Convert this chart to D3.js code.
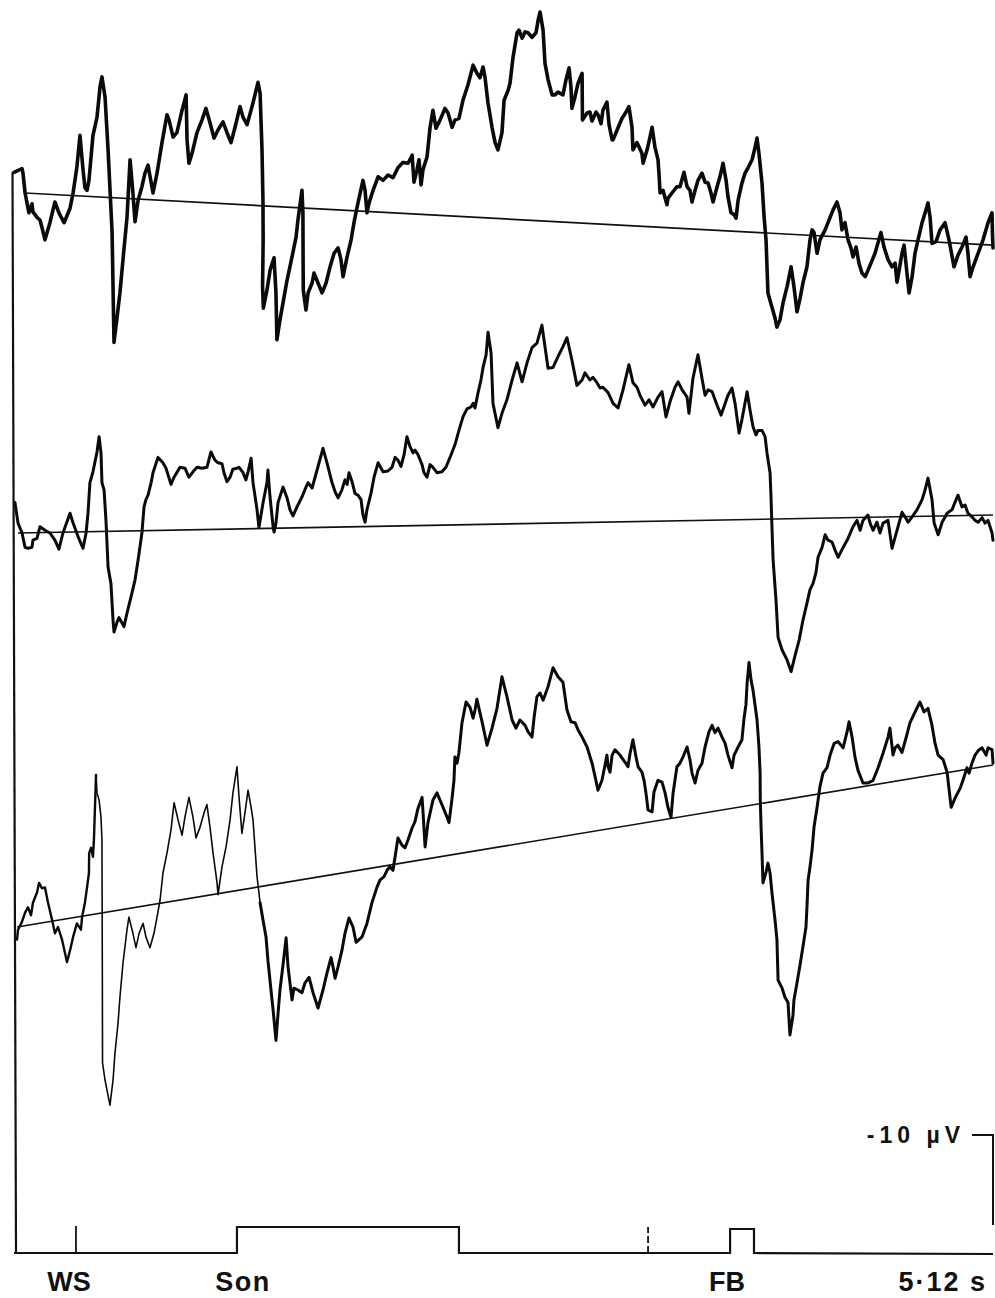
<!DOCTYPE html>
<html>
<head>
<meta charset="utf-8">
<script src="https://cdn.jsdelivr.net/npm/d3@7/dist/d3.min.js"></script>
<style>
  html, body { margin: 0; padding: 0; background: #fff; }
  svg { display: block; }
  text { font-family: "Liberation Sans", Arial, sans-serif; font-weight: bold; fill: #111; }
</style>
</head>
<body>
<svg id="chart" width="995" height="1298"></svg>
<script>
// Averaged slow potentials over one 5.12 s sweep (time in ms, amplitude in µV,
// negative plotted upward). Each trace is followed by its fitted trend line.
const sweepMs = [0, 5120];

const trace1 = [[0,-2.3],[42,-2.7],[47,-2.2],[58,0],[68,1.1],[78,2.2],[94,1.2],[99,2.1],[120,2.7],[136,3.0],[146,3.8],[162,5.2],[188,3.3],[214,1.0],[235,2.2],[262,3.3],[293,1.7],[309,0],[329,-2.9],[345,-6.4],[361,-2.6],[371,-0.6],[382,-0.3],[392,-1.4],[413,-6.4],[434,-8.4],[450,-11.8],[460,-12.9],[476,-10.7],[492,-4.8],[513,4.4],[523,16.6],[539,13.8],[554,11.1],[570,7.4],[591,2.7],[607,-3.7],[622,0],[633,3.2],[649,0.8],[669,-0.7],[685,-2.2],[701,-3.1],[727,0],[748,-2.2],[774,-5.6],[800,-8.7],[811,-8.1],[832,-6.2],[852,-6.7],[879,-9.2],[900,-10.9],[905,-5.9],[915,-3.3],[931,-4.4],[957,-6.7],[983,-8.1],[1004,-9.4],[1025,-7.8],[1046,-6.1],[1067,-7.0],[1093,-7.9],[1114,-6.7],[1135,-5.6],[1156,-7.3],[1182,-9.6],[1198,-8.4],[1219,-7.6],[1245,-9.6],[1266,-11.4],[1276,-12.3],[1287,-11.1],[1297,-4.8],[1302,0.8],[1303,5.2],[1300,10.4],[1304,12.8],[1323,10.8],[1339,8.6],[1360,7.2],[1370,11.1],[1375,16.3],[1391,14.1],[1412,11.6],[1428,9.7],[1454,7.1],[1475,4.9],[1485,3.0],[1506,-0.3],[1511,2.2],[1512,7.8],[1513,10.8],[1527,13.0],[1538,11.1],[1559,10.0],[1569,8.9],[1590,10.0],[1611,11.1],[1632,10.0],[1653,8.2],[1674,6.7],[1695,6.1],[1710,7.4],[1721,9.3],[1742,7.1],[1763,5.2],[1778,3.3],[1799,1.1],[1825,-1.4],[1836,-0.3],[1846,2.2],[1857,1.1],[1878,-0.3],[1904,-1.8],[1930,-1.4],[1956,-2.0],[1982,-1.7],[2008,-2.8],[2034,-3.4],[2061,-3.3],[2082,-4.2],[2092,-1.2],[2108,-2.6],[2118,-3.7],[2129,-0.9],[2139,-2.6],[2160,-4.0],[2176,-7.3],[2191,-9.2],[2207,-7.2],[2228,-8.1],[2254,-9.4],[2270,-8.9],[2291,-7.3],[2306,-8.1],[2327,-8.3],[2348,-10.3],[2374,-12.0],[2401,-14.2],[2421,-13.3],[2437,-12.8],[2453,-14.0],[2463,-12.9],[2479,-10.0],[2500,-7.3],[2516,-5.6],[2531,-4.8],[2552,-6.7],[2563,-10.3],[2584,-11.4],[2594,-12.2],[2610,-15.1],[2631,-17.8],[2641,-18.1],[2657,-17.2],[2673,-17.9],[2688,-17.8],[2709,-17.3],[2730,-17.8],[2741,-19.2],[2751,-20.1],[2767,-18.1],[2777,-14.4],[2793,-12.6],[2814,-10.9],[2829,-10.9],[2845,-11.2],[2871,-10.9],[2887,-12.6],[2903,-13.9],[2913,-11.7],[2918,-9.4],[2934,-10.7],[2950,-12.2],[2971,-13.3],[2972,-10.3],[2973,-8.1],[2997,-8.9],[3012,-9.0],[3023,-8.0],[3044,-9.0],[3054,-8.7],[3070,-7.7],[3080,-9.2],[3101,-10.1],[3112,-7.6],[3128,-5.9],[3133,-5.9],[3154,-7.0],[3180,-8.3],[3201,-9.0],[3216,-9.6],[3232,-7.3],[3237,-4.8],[3258,-5.6],[3269,-5.1],[3284,-4.4],[3290,-3.3],[3311,-4.8],[3326,-6.2],[3337,-7.3],[3352,-5.1],[3368,-3.7],[3373,-2.2],[3379,0],[3394,-0.3],[3415,1.3],[3420,0.6],[3441,0],[3467,-0.7],[3483,-0.7],[3504,-2.3],[3520,-0.7],[3535,-0.3],[3546,1.0],[3562,-0.3],[3577,-1.4],[3598,-2.2],[3614,-1.2],[3630,-1.1],[3645,0],[3656,1.0],[3677,-0.7],[3692,-1.8],[3708,-3.3],[3724,-1.4],[3734,0.4],[3750,2.2],[3766,2.4],[3776,2.8],[3787,0.8],[3807,-1.1],[3823,-2.2],[3839,-2.8],[3860,-3.7],[3875,-5.0],[3886,-6.1],[3896,-4.4],[3912,-1.1],[3923,2.7],[3933,5.2],[3938,8.2],[3943,11.1],[3964,12.7],[3980,13.9],[3990,14.9],[4006,14.1],[4022,12.2],[4043,10.4],[4064,8.2],[4079,10.4],[4095,13.2],[4111,11.7],[4126,10.0],[4147,8.2],[4163,5.2],[4174,4.1],[4184,4.4],[4200,6.7],[4215,5.2],[4242,4.1],[4268,2.7],[4283,1.9],[4304,1.0],[4320,2.2],[4330,4.1],[4346,3.3],[4362,5.2],[4377,6.1],[4388,7.1],[4404,6.0],[4419,7.8],[4435,8.9],[4451,9.3],[4466,8.6],[4503,6.7],[4534,4.4],[4550,6.0],[4571,7.4],[4592,8.2],[4608,7.8],[4618,9.9],[4629,8.6],[4644,6.7],[4655,5.8],[4670,8.9],[4681,11.1],[4697,9.3],[4712,6.7],[4728,5.2],[4749,3.3],[4765,2.2],[4780,1.1],[4791,2.7],[4801,5.6],[4822,5.4],[4843,4.1],[4869,3.3],[4890,5.2],[4916,8.2],[4937,6.9],[4958,6.0],[4979,4.9],[4989,6.7],[5000,9.3],[5016,8.2],[5042,6.7],[5068,5.2],[5094,3.3],[5115,2.2],[5117,4.4],[5120,6.1]];

const trace2 = [[5,-3.4],[21,-1.1],[42,0],[58,1.6],[73,1.7],[94,1.6],[99,0.8],[120,0.6],[136,-0.7],[162,-0.3],[188,0],[214,0.8],[235,1.8],[256,0],[293,-2.2],[309,-1.1],[335,0.4],[361,1.7],[377,0],[387,-2.2],[397,-5.6],[413,-6.8],[434,-9.0],[445,-10.7],[455,-8.9],[460,-5.6],[471,-4.8],[481,-1.4],[492,3.8],[507,5.6],[518,9.7],[523,11.0],[539,9.9],[549,9.4],[575,10.4],[591,8.9],[612,7.1],[633,5.2],[649,3.0],[669,0],[680,-2.9],[690,-3.7],[701,-4.2],[717,-5.6],[727,-6.7],[753,-8.4],[779,-7.8],[795,-7.2],[821,-5.4],[837,-6.2],[868,-7.3],[894,-7.2],[915,-6.2],[936,-6.8],[957,-7.3],[983,-7.2],[1009,-7.3],[1030,-9.0],[1051,-8.1],[1067,-7.8],[1088,-7.7],[1098,-6.7],[1114,-5.7],[1130,-6.2],[1145,-7.1],[1166,-7.2],[1177,-7.3],[1198,-6.7],[1213,-5.9],[1224,-6.8],[1240,-8.3],[1250,-5.6],[1271,-2.6],[1281,-0.6],[1302,-3.3],[1323,-5.6],[1328,-7.0],[1339,-4.0],[1355,-0.7],[1360,-0.1],[1370,-1.1],[1381,-3.4],[1407,-5.1],[1428,-3.9],[1443,-2.6],[1459,-1.9],[1480,-2.9],[1506,-4.0],[1527,-5.1],[1538,-5.6],[1559,-5.0],[1585,-7.0],[1616,-9.4],[1637,-7.8],[1663,-5.6],[1679,-4.6],[1695,-3.9],[1715,-4.8],[1731,-5.9],[1742,-5.4],[1752,-6.7],[1768,-5.7],[1783,-4.4],[1799,-4.2],[1815,-3.7],[1825,-2.0],[1836,-1.2],[1846,-2.6],[1867,-4.4],[1883,-6.2],[1904,-7.8],[1930,-6.8],[1956,-6.9],[1977,-7.3],[1993,-8.4],[2008,-8.1],[2024,-7.4],[2040,-8.7],[2055,-10.7],[2071,-9.6],[2087,-8.9],[2097,-9.2],[2113,-8.7],[2134,-7.6],[2144,-6.7],[2160,-6.2],[2176,-7.6],[2191,-7.3],[2212,-6.7],[2238,-6.8],[2259,-7.3],[2286,-8.7],[2306,-9.8],[2327,-11.4],[2348,-12.9],[2369,-13.8],[2390,-14.0],[2401,-14.4],[2411,-13.9],[2427,-15.6],[2442,-17.0],[2453,-18.4],[2469,-19.8],[2479,-22.3],[2495,-20.0],[2505,-14.4],[2531,-11.7],[2552,-13.3],[2578,-14.8],[2605,-17.0],[2631,-18.9],[2657,-16.8],[2683,-18.9],[2709,-20.6],[2735,-21.1],[2761,-23.1],[2777,-20.7],[2793,-18.3],[2819,-18.4],[2845,-19.6],[2871,-20.7],[2892,-21.7],[2918,-19.2],[2944,-16.4],[2971,-17.0],[2986,-17.8],[3012,-17.0],[3028,-17.3],[3049,-16.7],[3065,-16.1],[3080,-16.2],[3107,-15.6],[3133,-14.4],[3159,-13.9],[3185,-15.9],[3216,-18.7],[3237,-16.7],[3258,-16.2],[3274,-15.3],[3300,-14.2],[3321,-14.8],[3342,-14.0],[3368,-15.1],[3389,-15.7],[3410,-12.9],[3431,-14.6],[3457,-16.2],[3473,-16.8],[3494,-15.9],[3520,-15.1],[3530,-13.3],[3551,-17.2],[3577,-19.8],[3598,-17.2],[3614,-15.3],[3630,-15.9],[3651,-15.7],[3677,-14.2],[3698,-13.1],[3719,-14.4],[3734,-15.3],[3755,-16.1],[3771,-14.4],[3792,-11.1],[3807,-12.6],[3834,-15.7],[3849,-13.7],[3865,-11.8],[3881,-10.9],[3891,-11.4],[3912,-11.4],[3928,-10.7],[3938,-8.9],[3954,-6.7],[3959,-4.0],[3964,-0.7],[3970,3.0],[3985,7.4],[3996,11.6],[4017,13.0],[4043,14.1],[4064,15.4],[4085,13.6],[4106,11.9],[4126,9.7],[4147,7.8],[4163,6.3],[4179,5.6],[4194,4.4],[4205,2.7],[4226,1.6],[4242,0.2],[4257,0.8],[4278,1.0],[4294,1.9],[4310,2.7],[4336,1.6],[4362,0.6],[4388,-0.7],[4409,-1.4],[4425,-0.3],[4440,-1.4],[4466,-2.0],[4477,-1.1],[4493,-0.3],[4513,-1.2],[4529,0],[4545,-1.1],[4571,-1.4],[4592,1.7],[4618,-0.3],[4644,-2.3],[4660,-1.8],[4676,-1.2],[4697,-1.8],[4723,-2.6],[4749,-3.7],[4765,-4.8],[4780,-6.1],[4801,-3.7],[4812,-1.1],[4833,0.2],[4854,-1.2],[4880,-2.2],[4906,-2.6],[4921,-3.4],[4937,-4.2],[4958,-2.9],[4974,-3.1],[4989,-2.2],[5010,-1.8],[5026,-1.4],[5042,-1.2],[5063,-1.7],[5078,-1.1],[5094,-1.4],[5115,0],[5120,0.8]];

const trace3 = [[16,1.4],[21,0.3],[42,-0.6],[58,-1.6],[73,-2.2],[89,-1.3],[99,-2.7],[120,-3.8],[131,-4.9],[146,-4.3],[162,-4.4],[178,-2.7],[199,-0.8],[214,0.7],[230,0],[251,1.4],[277,3.9],[293,2.6],[309,1.1],[329,-0.4],[350,0.3],[356,-1.1],[371,-2.7],[382,-4.4],[392,-6.0],[393,-8.2],[403,-8.8],[413,-7.8],[418,-9.7],[429,-16.9],[434,-14.9],[445,-14.1],[455,-12.2],[460,-9.7],[461,-2.2],[462,5.1],[463,15.1],[476,17.0],[502,19.8],[518,17.0],[528,14.0],[544,10.7],[554,7.8],[570,4.0],[591,0.3],[601,-1.1],[622,0.7],[638,2.3],[654,0.7],[675,-0.4],[690,1.1],[711,2.3],[732,0.7],[748,-1.1],[764,-3.0],[779,-6.0],[800,-8.2],[821,-10.8],[837,-13.8],[858,-11.9],[879,-10.2],[894,-12.2],[915,-14.4],[936,-12.2],[952,-9.9],[973,-11.1],[994,-12.7],[1009,-13.6],[1025,-11.1],[1041,-8.2],[1062,-4.9],[1067,-3.6],[1088,-6.7],[1109,-8.9],[1130,-11.9],[1145,-14.9],[1166,-17.8],[1177,-14.4],[1192,-10.4],[1208,-12.7],[1224,-15.2],[1240,-13.3],[1250,-11.9],[1260,-8.9],[1271,-5.6],[1287,-2.7],[1302,-0.8],[1318,1.1],[1328,3.7],[1344,7.0],[1355,9.2],[1370,12.6],[1381,9.6],[1391,7.0],[1407,4.2],[1423,1.2],[1433,4.4],[1454,8.1],[1464,6.8],[1485,7.0],[1506,7.3],[1522,6.2],[1543,5.6],[1564,7.3],[1590,9.0],[1616,7.0],[1637,5.1],[1658,3.4],[1668,4.4],[1679,5.7],[1695,4.4],[1715,2.6],[1731,0.7],[1752,-1.0],[1773,0],[1789,1.7],[1820,1.1],[1846,-0.4],[1872,-2.7],[1898,-4.4],[1914,-5.2],[1935,-5.6],[1951,-6.3],[1966,-6.7],[1982,-6.3],[1993,-7.8],[2008,-9.9],[2029,-9.1],[2045,-8.8],[2061,-9.7],[2082,-11.0],[2097,-11.7],[2113,-13.2],[2134,-14.4],[2139,-12.8],[2150,-8.9],[2165,-11.6],[2191,-14.1],[2212,-14.9],[2238,-13.6],[2265,-12.2],[2275,-11.6],[2291,-14.3],[2301,-16.3],[2306,-18.9],[2317,-18.2],[2327,-19.4],[2343,-22.7],[2364,-25.0],[2385,-24.4],[2401,-23.2],[2411,-24.1],[2421,-25.3],[2448,-22.8],[2474,-20.2],[2500,-22.1],[2526,-24.3],[2552,-27.8],[2578,-25.6],[2605,-23.0],[2625,-22.1],[2646,-23.0],[2673,-22.4],[2688,-21.7],[2709,-21.1],[2720,-23.3],[2735,-25.6],[2751,-26.0],[2767,-25.2],[2793,-26.7],[2819,-28.8],[2845,-27.8],[2871,-27.2],[2892,-24.1],[2913,-22.8],[2934,-22.7],[2950,-21.9],[2971,-21.1],[2997,-20.0],[3023,-18.2],[3039,-16.7],[3054,-15.2],[3075,-16.3],[3091,-18.0],[3101,-19.1],[3107,-17.8],[3117,-17.2],[3128,-19.1],[3143,-19.7],[3169,-19.1],[3196,-18.3],[3211,-17.8],[3222,-19.3],[3237,-20.8],[3253,-18.9],[3264,-17.8],[3284,-17.2],[3295,-16.3],[3305,-14.9],[3316,-13.0],[3337,-12.8],[3347,-15.0],[3368,-16.3],[3389,-16.1],[3405,-14.9],[3420,-13.3],[3436,-12.2],[3447,-14.9],[3467,-17.8],[3483,-18.2],[3499,-18.9],[3520,-20.0],[3535,-18.6],[3546,-17.1],[3562,-16.0],[3577,-17.4],[3598,-18.2],[3614,-20.0],[3635,-21.7],[3651,-22.4],[3666,-21.6],[3682,-22.1],[3703,-21.1],[3719,-20.4],[3734,-19.1],[3755,-17.7],[3766,-19.1],[3787,-20.0],[3807,-20.8],[3818,-23.2],[3828,-24.7],[3834,-27.1],[3839,-28.2],[3844,-29.4],[3855,-27.4],[3865,-26.3],[3886,-23.0],[3896,-20.0],[3902,-17.1],[3903,-14.1],[3907,-11.1],[3912,-8.2],[3917,-4.9],[3933,-6.1],[3943,-7.1],[3954,-6.0],[3964,-3.8],[3980,-0.8],[3990,1.4],[3996,5.9],[4017,6.8],[4032,7.8],[4048,8.4],[4058,12.0],[4074,9.8],[4079,8.1],[4095,6.2],[4111,4.2],[4126,2.2],[4142,0],[4147,-2.2],[4153,-5.2],[4163,-6.7],[4174,-8.6],[4184,-11.1],[4200,-13.3],[4215,-15.6],[4231,-17.1],[4252,-17.7],[4268,-19.1],[4289,-20.4],[4310,-20.6],[4336,-19.9],[4357,-21.7],[4367,-22.8],[4383,-21.1],[4398,-18.9],[4414,-17.4],[4440,-16.0],[4466,-16.0],[4493,-16.3],[4519,-17.7],[4545,-19.3],[4571,-21.1],[4581,-22.1],[4597,-19.1],[4608,-19.9],[4623,-20.2],[4644,-19.4],[4665,-21.0],[4686,-22.7],[4717,-24.1],[4738,-25.0],[4759,-23.9],[4780,-24.3],[4801,-22.4],[4817,-20.4],[4833,-19.1],[4859,-18.6],[4880,-17.2],[4901,-13.3],[4921,-14.3],[4948,-15.4],[4963,-16.3],[4984,-17.7],[4995,-17.1],[5010,-18.2],[5026,-19.1],[5047,-19.7],[5063,-19.9],[5084,-19.1],[5094,-19.9],[5115,-19.7],[5120,-18.2]];

// Trend lines fitted to each trace: [start, end] as [ms, µV]
const trend1 = [[58, 0], [5120, 5.8]];
const trend2 = [[21, 0], [5120, -2.0]];
const trend3 = [[16, 0], [5120, -18.0]];

// Event channel (ms)
const warningMs = 324;            // WS
const stimulusMs = [1166, 2327];  // S on ... off
const dashedMarkMs = 3316;
const feedbackMs = [3745, 3870];  // FB

const eventLabels = ["WS", "Son", "FB", "5·12 s"];
const calibrationUv = 10;
const calibrationLabel = "-10 µV";

// ---- layout ----
const svg = d3.select("#chart");
const x = d3.scaleLinear().domain(sweepMs).range([14, 993]);
const PX_PER_10UV = 90;
const traceZeroY = [193, 533, 927];
const yScales = traceZeroY.map(z => d3.scaleLinear().domain([0, 10]).range([z, z + PX_PER_10UV]));

function lineFor(y) {
  return d3.line().x(d => x(d[0])).y(d => y(d[1]));
}

// trend lines
[trend1, trend2, trend3].forEach((tr, i) => {
  svg.append("path")
    .attr("d", lineFor(yScales[i])(tr))
    .attr("fill", "none").attr("stroke", "#111").attr("stroke-width", 1.7);
});

// traces
function drawTrace(data, y, width) {
  svg.append("path")
    .attr("d", lineFor(y)(data))
    .attr("fill", "none").attr("stroke", "#0a0a0a")
    .attr("stroke-width", width)
    .attr("stroke-linejoin", "round").attr("stroke-linecap", "round");
}
drawTrace(trace1, yScales[0], 3.6);
drawTrace(trace2, yScales[1], 3.0);
// third trace: pen pressure lighter on its early part
const t3Early = trace3.filter(d => d[0] <= 429);
const t3Mid = trace3.filter(d => d[0] >= 429 && d[0] <= 1287);
const t3Late = trace3.filter(d => d[0] >= 1287);
drawTrace(t3Early, yScales[2], 2.4);
drawTrace(t3Mid, yScales[2], 1.6);
drawTrace(t3Late, yScales[2], 3.0);

// left vertical axis line
const axisTop = yScales[0](trace1[0][1]);
const eventY = 1253;
svg.append("line")
  .attr("x1", x(0) - 1.5).attr("y1", axisTop)
  .attr("x2", x(0) + 2).attr("y2", eventY)
  .attr("stroke", "#111").attr("stroke-width", 2.2);

// event channel
const pulseH = 26;
const ev = svg.append("g").attr("fill", "none").attr("stroke", "#111").attr("stroke-width", 2.2);
ev.append("path").attr("d", d3.line()([
  [x(0), eventY],
  [x(stimulusMs[0]), eventY], [x(stimulusMs[0]), eventY - pulseH],
  [x(stimulusMs[1]), eventY - pulseH], [x(stimulusMs[1]), eventY],
  [x(feedbackMs[0]), eventY], [x(feedbackMs[0]), eventY - pulseH + 2],
  [x(feedbackMs[1]), eventY - pulseH + 2], [x(feedbackMs[1]), eventY],
  [x(sweepMs[1]), eventY + 1]
]));
ev.append("line")
  .attr("x1", x(warningMs)).attr("x2", x(warningMs))
  .attr("y1", eventY).attr("y2", eventY - pulseH - 1).attr("stroke-width", 1.8);
ev.append("line")
  .attr("x1", x(dashedMarkMs)).attr("x2", x(dashedMarkMs))
  .attr("y1", eventY).attr("y2", eventY - pulseH)
  .attr("stroke-width", 1.8).attr("stroke-dasharray", "7,3");

// event labels
const labelY = 1291;
svg.append("text").attr("x", x(warningMs) - 7).attr("y", labelY)
  .attr("text-anchor", "middle").attr("font-size", 27).text(eventLabels[0]);
svg.append("text").attr("x", x(stimulusMs[0]) + 6).attr("y", labelY)
  .attr("text-anchor", "middle").attr("font-size", 27).attr("letter-spacing", 1.5).text(eventLabels[1]);
svg.append("text").attr("x", x(feedbackMs[0]) - 3).attr("y", labelY)
  .attr("text-anchor", "middle").attr("font-size", 27).text(eventLabels[2]);
svg.append("text").attr("x", x(sweepMs[1]) - 6).attr("y", labelY)
  .attr("text-anchor", "end").attr("font-size", 27).attr("letter-spacing", 2).text(eventLabels[3]);

// calibration bar
const calTop = 1135;
const calLen = yScales[0](calibrationUv) - yScales[0](0);
const calX = x(sweepMs[1]);
svg.append("path")
  .attr("d", d3.line()([[calX - 21, calTop], [calX, calTop], [calX, calTop + calLen]]))
  .attr("fill", "none").attr("stroke", "#111").attr("stroke-width", 2);
svg.append("text").attr("x", calX - 28).attr("y", calTop + 8)
  .attr("text-anchor", "end").attr("font-size", 23).attr("letter-spacing", 5)
  .text(calibrationLabel);
</script>
</body>
</html>
